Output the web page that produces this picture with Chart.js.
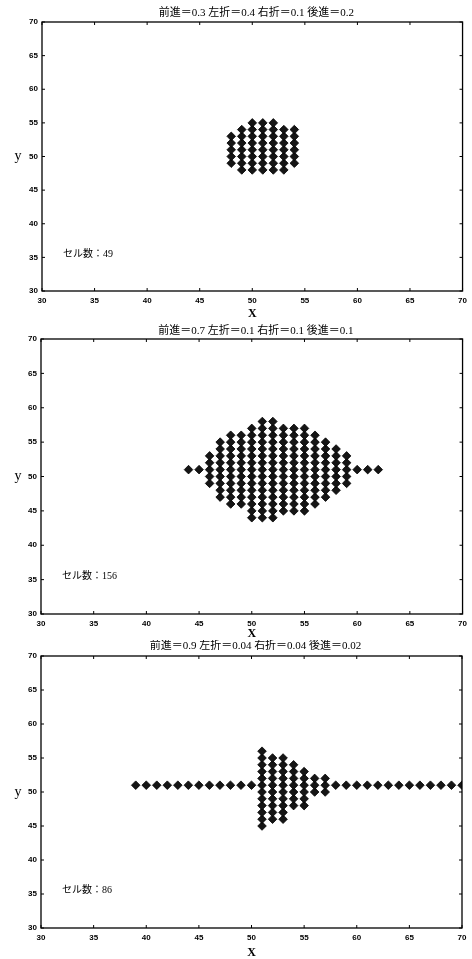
<!DOCTYPE html>
<html>
<head>
<meta charset="utf-8">
<script src="https://cdn.jsdelivr.net/npm/chart.js@4.4.1/dist/chart.umd.min.js"></script>
<style>
  body { margin: 0; background: #fff; width: 472px; height: 959px; position: relative; overflow: hidden; }
  canvas { position: absolute; left: 0; }
</style>
</head>
<body>
<canvas id="c1" width="472" height="322" style="top:0px"></canvas>
<canvas id="c2" width="472" height="318" style="top:322px"></canvas>
<canvas id="c3" width="472" height="319" style="top:640px"></canvas>
<script>
// tick labels (same on every panel)
const xTicks = [30, 35, 40, 45, 50, 55, 60, 65, 70];
const yTicks = [30, 35, 40, 45, 50, 55, 60, 65, 70];

// panel titles / cell counts
const titles = ['前進＝0.3 左折＝0.4 右折＝0.1 後進＝0.2',
                '前進＝0.7 左折＝0.1 右折＝0.1 後進＝0.1',
                '前進＝0.9 左折＝0.04 右折＝0.04 後進＝0.02'];
const cellCounts = [49, 156, 86];

// panel 1: x column and the y values of the cells in it
const p1Cols = [48, 49, 50, 51, 52, 53, 54];
const p1Ys = [
  [49, 50, 51, 52, 53],
  [48, 49, 50, 51, 52, 53, 54],
  [48, 49, 50, 51, 52, 53, 54, 55],
  [48, 49, 50, 51, 52, 53, 54, 55],
  [48, 49, 50, 51, 52, 53, 54, 55],
  [48, 49, 50, 51, 52, 53, 54],
  [49, 50, 51, 52, 53, 54]
];

// panel 2
const p2Cols = [44, 45, 46, 47, 48, 49, 50, 51, 52, 53, 54, 55, 56, 57, 58, 59, 60, 61, 62];
const p2Ys = [
  [51],
  [51],
  [49, 50, 51, 52, 53],
  [47, 48, 49, 50, 51, 52, 53, 54, 55],
  [46, 47, 48, 49, 50, 51, 52, 53, 54, 55, 56],
  [46, 47, 48, 49, 50, 51, 52, 53, 54, 55, 56],
  [44, 45, 46, 47, 48, 49, 50, 51, 52, 53, 54, 55, 56, 57],
  [44, 45, 46, 47, 48, 49, 50, 51, 52, 53, 54, 55, 56, 57, 58],
  [44, 45, 46, 47, 48, 49, 50, 51, 52, 53, 54, 55, 56, 57, 58],
  [45, 46, 47, 48, 49, 50, 51, 52, 53, 54, 55, 56, 57],
  [45, 46, 47, 48, 49, 50, 51, 52, 53, 54, 55, 56, 57],
  [45, 46, 47, 48, 49, 50, 51, 52, 53, 54, 55, 56, 57],
  [46, 47, 48, 49, 50, 51, 52, 53, 54, 55, 56],
  [47, 48, 49, 50, 51, 52, 53, 54, 55],
  [48, 49, 50, 51, 52, 53, 54],
  [49, 50, 51, 52, 53],
  [51],
  [51],
  [51]
];

// panel 3
const p3Cols = [39, 40, 41, 42, 43, 44, 45, 46, 47, 48, 49, 50, 51, 52, 53, 54, 55, 56, 57,
                58, 59, 60, 61, 62, 63, 64, 65, 66, 67, 68, 69, 70];
const p3Ys = [
  [51], [51], [51], [51], [51], [51], [51], [51], [51], [51], [51], [51],
  [45, 46, 47, 48, 49, 50, 51, 52, 53, 54, 55, 56],
  [46, 47, 48, 49, 50, 51, 52, 53, 54, 55],
  [46, 47, 48, 49, 50, 51, 52, 53, 54, 55],
  [48, 49, 50, 51, 52, 53, 54],
  [48, 49, 50, 51, 52, 53],
  [50, 51, 52],
  [50, 51, 52],
  [51], [51], [51], [51], [51], [51], [51], [51], [51], [51], [51], [51], [51]
];

const SERIF = '"Liberation Serif", "DejaVu Serif", "Noto Sans CJK JP", serif';
const SANS = '"Liberation Sans", Arial, sans-serif';

function toPoints(cols, ys) {
  const pts = [];
  cols.forEach((x, i) => ys[i].forEach(y => pts.push({ x: x, y: y })));
  return pts;
}

// box, inward ticks, title, axis labels, cell count
const framePlugin = {
  id: 'frame',
  afterDraw(chart, args, opts) {
    const ctx = chart.ctx;
    const a = chart.chartArea;
    const xs = chart.scales.x, ys = chart.scales.y;
    ctx.save();
    ctx.strokeStyle = '#000';
    ctx.lineWidth = 1.3;
    ctx.strokeRect(a.left, a.top, a.right - a.left, a.bottom - a.top);
    ctx.lineWidth = 1;
    ctx.beginPath();
    xTicks.forEach(v => {
      const px = xs.getPixelForValue(v);
      ctx.moveTo(px, a.bottom); ctx.lineTo(px, a.bottom - 3);
      ctx.moveTo(px, a.top); ctx.lineTo(px, a.top + 3);
    });
    yTicks.forEach(v => {
      const py = ys.getPixelForValue(v);
      ctx.moveTo(a.left, py); ctx.lineTo(a.left + 3, py);
      ctx.moveTo(a.right, py); ctx.lineTo(a.right - 3, py);
    });
    ctx.stroke();

    ctx.fillStyle = '#000';
    ctx.textBaseline = 'middle';
    ctx.textAlign = 'center';
    ctx.font = '11px ' + SERIF;
    ctx.fillText(opts.title, (a.left + a.right) / 2 + 4, a.top - opts.titleGap);
    ctx.font = 'bold 12px ' + SERIF;
    ctx.fillText('X', (a.left + a.right) / 2, a.bottom + opts.xGap);
    ctx.font = '14px ' + SERIF;
    ctx.fillText('y', 18, (a.top + a.bottom) / 2);
    ctx.textAlign = 'left';
    ctx.font = '10px ' + SERIF;
    ctx.fillText('セル数：' + opts.count, xs.getPixelForValue(32), ys.getPixelForValue(35.5));
    ctx.restore();
  }
};

function makePanel(id, cols, ys, opts) {
  const c = document.getElementById(id);
  new Chart(c, {
    type: 'scatter',
    data: {
      datasets: [{
        data: toPoints(cols, ys),
        pointStyle: 'rectRot',
        pointRadius: 4.3,
        backgroundColor: '#151515',
        borderColor: '#000',
        borderWidth: 0.8
      }]
    },
    options: {
      responsive: false,
      animation: false,
      devicePixelRatio: 1,
      layout: { padding: { top: opts.top, left: 0, right: 472 - opts.right, bottom: 0 } },
      plugins: { legend: { display: false }, tooltip: { enabled: false }, frame: opts },
      scales: {
        x: {
          type: 'linear', min: 30, max: 70,
          afterBuildTicks: s => { s.ticks = xTicks.map(v => ({ value: v })); },
          afterFit: s => { s.height = c.height - opts.bottom; },
          grid: { drawOnChartArea: false, drawTicks: false },
          border: { display: false },
          ticks: { color: '#000', font: { family: SANS, size: 8, weight: 'bold' }, padding: 5, maxRotation: 0 }
        },
        y: {
          type: 'linear', min: 30, max: 70,
          afterBuildTicks: s => { s.ticks = yTicks.map(v => ({ value: v })); },
          afterFit: s => { s.width = opts.left; },
          grid: { drawOnChartArea: false, drawTicks: false },
          border: { display: false },
          ticks: { color: '#000', font: { family: SANS, size: 8, weight: 'bold' }, padding: 4 }
        }
      }
    },
    plugins: [framePlugin]
  });
}

makePanel('c1', p1Cols, p1Ys, { top: 22, bottom: 291, left: 42, right: 465, title: titles[0], count: cellCounts[0], titleGap: 9, xGap: 23 });
makePanel('c2', p2Cols, p2Ys, { top: 17, bottom: 292, left: 41, right: 463, title: titles[1], count: cellCounts[1], titleGap: 8, xGap: 20 });
makePanel('c3', p3Cols, p3Ys, { top: 16, bottom: 288, left: 41, right: 462, title: titles[2], count: cellCounts[2], titleGap: 10, xGap: 25 });
</script>
</body>
</html>
